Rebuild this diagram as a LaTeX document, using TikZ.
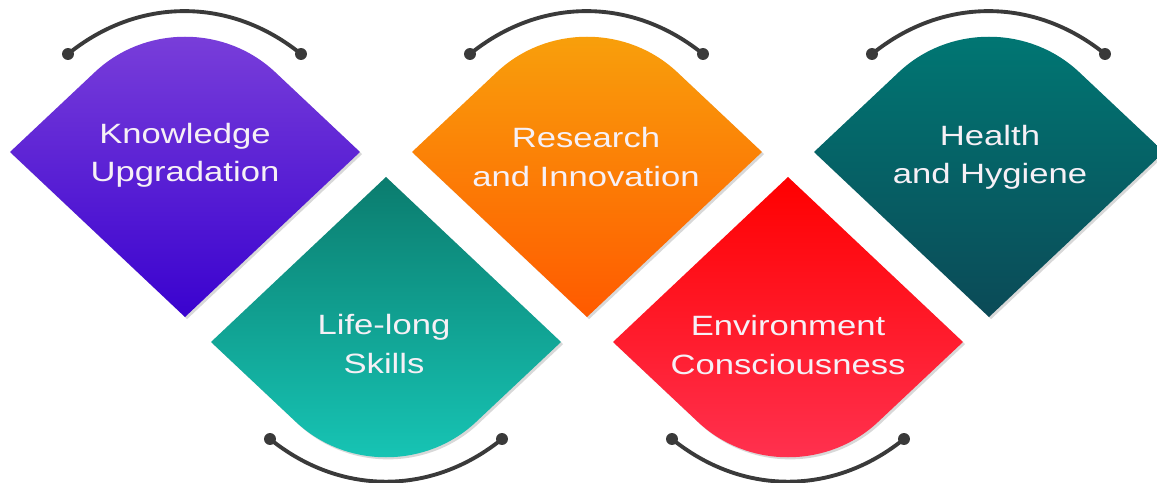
\documentclass[tikz,border=0pt]{standalone}
\usepackage{fontspec}
\setmainfont{Liberation Sans}
\usetikzlibrary{shadows}

\definecolor{knowtop}{HTML}{7B40DA}
\definecolor{knowbot}{HTML}{3A02CF}
\definecolor{lifetop}{HTML}{0B7C6E}
\definecolor{lifebot}{HTML}{17C7B7}
\definecolor{restop}{HTML}{F8A20C}
\definecolor{resbot}{HTML}{FF5A00}
\definecolor{envtop}{HTML}{FF0000}
\definecolor{envbot}{HTML}{FF3352}
\definecolor{healthtop}{HTML}{007874}
\definecolor{healthbot}{HTML}{0B4A57}
\definecolor{arcgray}{HTML}{3A3A3A}
\definecolor{labelwhite}{HTML}{F6F0F6}

\tikzset{
  leaf/.style={drop shadow={opacity=0.3, shadow xshift=1.2pt, shadow yshift=-1.2pt}},
  lbl/.style={text=labelwhite, font=\fontsize{15.9}{21.8}\selectfont, align=center,
    inner sep=0pt, xscale=1.24, transform shape},
  arcline/.style={draw=arcgray, line width=2.2pt},
}

\begin{document}
\begin{tikzpicture}[x=0.02cm, y=-0.02cm]
    \fill[white] (0,0) rectangle (1157,483);
    \useasboundingbox (0,0) rectangle (1157,483);

    % leaves, round cap on top
    \foreach \cx/\ct/\cb in {185/knowtop/knowbot, 587/restop/resbot, 989/healthtop/healthbot}
        \shade[leaf, top color=\ct, bottom color=\cb] ({\cx-175},152) -- (\cx,317) -- ({\cx+175},152) -- ({\cx+90},72)
            .. controls ({\cx+40},25) and ({\cx-40},25) .. ({\cx-90},72) -- cycle;

    % leaves, round cap below
    \foreach \cx/\ct/\cb in {386/lifetop/lifebot, 788/envtop/envbot}
        \shade[leaf, top color=\ct, bottom color=\cb] ({\cx-175},342) -- (\cx,177) -- ({\cx+175},342) -- ({\cx+90},422)
            .. controls ({\cx+40},469) and ({\cx-40},469) .. ({\cx-90},422) -- cycle;

    \node[lbl] (know) at (185,155) {Knowledge\\Upgradation};
    \node[lbl] (life) at (384,344) {Life-long\\Skills};
    \node[lbl] (research) at (586,157) {Research\\and Innovation};
    \node[lbl] (env) at (788,345) {Environment\\Consciousness};
    \node[lbl] (health) at (990,157) {Health\\and Hygiene};

    % arcs over and under the leaves
    \foreach \cx/\nm in {185/know, 587/research, 989/health} {
        \coordinate (\nm-a) at ({\cx-117},54);
        \coordinate (\nm-b) at ({\cx+116},54);
        \draw[arcline] (\nm-a) to[bend left=39] (\nm-b);
        \fill[arcgray] (\nm-a) circle (3.4pt) (\nm-b) circle (3.4pt);
    }
    \foreach \cx/\nm in {386/life, 788/env} {
        \coordinate (\nm-a) at ({\cx-116},439);
        \coordinate (\nm-b) at ({\cx+116},439);
        \draw[arcline] (\nm-a) to[bend right=39] (\nm-b);
        \fill[arcgray] (\nm-a) circle (3.4pt) (\nm-b) circle (3.4pt);
    }
\end{tikzpicture}
\end{document}
